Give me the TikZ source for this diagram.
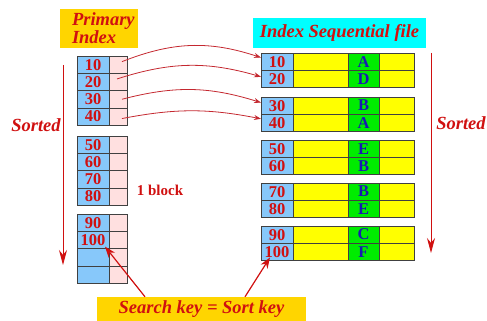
\documentclass[tikz,border=0pt]{standalone}
\usepackage{fontspec}
\setmainfont{Liberation Serif}
\usetikzlibrary{arrows.meta}

\definecolor{keyblue}{RGB}{135,200,250}
\definecolor{ptrpink}{RGB}{255,224,224}
\definecolor{recyellow}{RGB}{255,255,0}
\definecolor{recgreen}{RGB}{0,236,0}
\definecolor{labgold}{RGB}{255,213,0}
\definecolor{labcyan}{RGB}{0,255,255}
\definecolor{txtred}{RGB}{208,16,16}
\definecolor{txtblue}{RGB}{26,26,176}
\definecolor{linkred}{RGB}{196,40,48}
\definecolor{gridgray}{RGB}{64,64,64}

\tikzset{
  cell/.style={draw=gridgray, line width=0.8pt, anchor=north west, inner sep=0pt,
               outer sep=0pt, minimum height=17.3pt,
               font=\fontsize{16.5}{17}\selectfont\bfseries, text=txtred},
  lkey/.style={cell, fill=keyblue, minimum width=32pt},
  lptr/.style={cell, fill=ptrpink, minimum width=18pt},
  rcell/.style={cell, minimum height=17.2pt},
  rkey/.style={rcell, fill=keyblue, minimum width=32pt},
  rbody/.style={rcell, fill=recyellow, minimum width=55pt},
  rlet/.style={rcell, fill=recgreen, minimum width=31pt, text=txtblue},
  rtail/.style={rcell, fill=recyellow, minimum width=35pt},
  title/.style={font=\fontsize{18.5}{13.5}\selectfont\bfseries\itshape, text=txtred},
  link/.style={draw=linkred, line width=0.8pt, -{Stealth[length=7pt,width=5pt]}},
  pointer/.style={draw=txtred, line width=1.2pt, -{Stealth[length=11pt,width=8pt]}},
  order/.style={draw=txtred, line width=0.8pt, -{Stealth[length=15pt,width=8pt]}},
}

% one row of the index: key cell and pointer cell
\newcommand\idxrow[3]{%
  \node[lkey] (lk#1) at (77,#2) {#3};
  \node[lptr] (lp#1) at (109,#2) {};}
% one record of the data file
\newcommand\recrow[4]{%
  \node[rkey] (rk#1) at (261,#2) {#3};
  \node[rbody] (rb#1) at (293,#2) {};
  \node[rlet] (rl#1) at (348,#2) {#4};
  \node[rtail] (rt#1) at (379,#2) {};}

\begin{document}
\begin{tikzpicture}[x=1pt,y=-1pt]
\useasboundingbox (0,0) rectangle (487,321);

% headings
\node[title, fill=labgold, minimum width=78pt, minimum height=39pt, align=left,
      inner sep=0pt, text width=54pt] (pih) at (99,28.5) {Primary\\Index};
\node[title, fill=labcyan, minimum width=173pt, minimum height=30pt, inner sep=0pt]
      (isf) at (339.5,33) {Index Sequential file};

% primary index, three blocks of four entries
\idxrow{1}{56}{10}
\idxrow{2}{73.3}{20}
\idxrow{3}{90.6}{30}
\idxrow{4}{107.9}{40}
\idxrow{5}{136}{50}
\idxrow{6}{153.3}{60}
\idxrow{7}{170.6}{70}
\idxrow{8}{187.9}{80}
\idxrow{9}{214}{90}
\idxrow{10}{231.3}{100}
\idxrow{11}{248.6}{}
\idxrow{12}{265.9}{}

% data file, blocks of two records
\recrow{1}{53}{10}{A}
\recrow{2}{70.2}{20}{D}
\recrow{3}{97}{30}{B}
\recrow{4}{114.2}{40}{A}
\recrow{5}{140}{50}{E}
\recrow{6}{157.2}{60}{B}
\recrow{7}{183}{70}{B}
\recrow{8}{200.2}{80}{E}
\recrow{9}{226}{90}{C}
\recrow{10}{243.2}{100}{F}

% index pointers into the file
\draw[link] ([xshift=4pt,yshift=3pt]lp1.center) to[bend left=20] ([yshift=4pt]rk1.west);
\draw[link] ([xshift=-1pt,yshift=3pt]lp2.center) to[bend left=17] ([yshift=2pt]rk2.west);
\draw[link] ([xshift=4pt]lp3.center) to[bend left=16] ([yshift=3pt]rk3.west);
\draw[link] ([xshift=4pt,yshift=-2pt]lp4.center) to[bend left=11] ([yshift=4pt]rk4.west);

% sort order markers
\coordinate (ls) at (63,65);
\coordinate (le) at (63,265);
\draw[order] (ls) -- (le);
\node[title] (lsort) at (36,125) {Sorted};
\coordinate (rs) at (431,53);
\coordinate (re) at (431,253);
\draw[order] (rs) -- (re);
\node[title] (rsort) at (461,123) {Sorted};

\node[font=\fontsize{15}{16}\selectfont\bfseries, text=txtred] (blk) at (160,190) {1 block};

% search key label
\node[title, fill=labgold, minimum width=209pt, minimum height=24pt, inner sep=0pt]
      (sk) at (201.5,309) {Search key = Sort key};
\draw[pointer] ([xshift=-56.5pt]sk.north) -- ([xshift=-4pt,yshift=2pt]lk10.south east);
\draw[pointer] ([xshift=43.5pt]sk.north) -- ([xshift=9pt,yshift=3pt]rk10.south west);
\end{tikzpicture}
\end{document}
